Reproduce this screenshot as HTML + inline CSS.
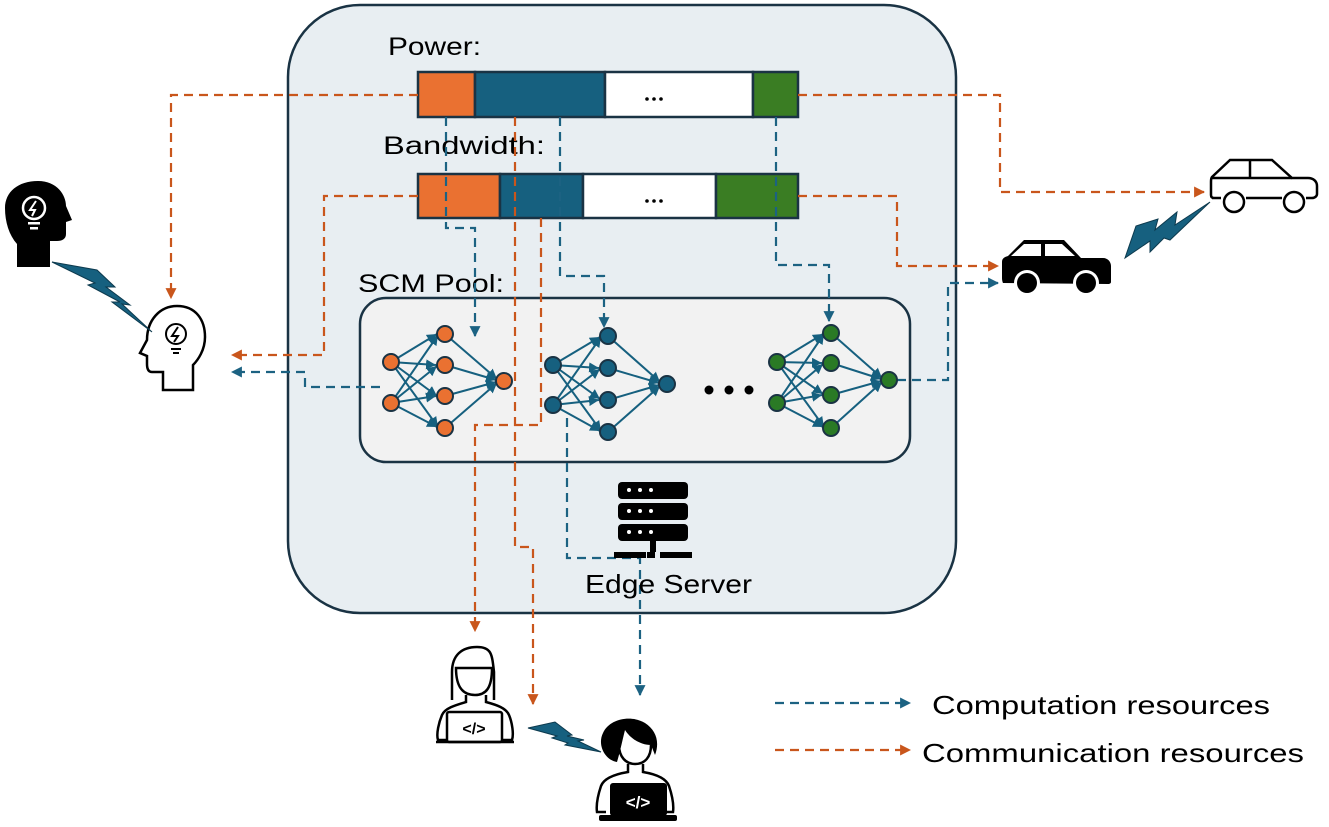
<!DOCTYPE html>
<html><head><meta charset="utf-8"><style>
html,body{margin:0;padding:0;background:#fff;}
svg{display:block;font-family:"Liberation Sans",sans-serif;}
</style></head><body>
<svg width="1329" height="827" viewBox="0 0 1329 827" xmlns="http://www.w3.org/2000/svg">
<defs>
<marker id="ao" viewBox="0 0 10 10" refX="9" refY="5" markerWidth="5" markerHeight="5" orient="auto" markerUnits="strokeWidth"><path d="M0,0L10,5L0,10z" fill="#c9561c"/></marker>
<marker id="ab" viewBox="0 0 10 10" refX="9" refY="5" markerWidth="5" markerHeight="5" orient="auto" markerUnits="strokeWidth"><path d="M0,0L10,5L0,10z" fill="#1c6282"/></marker>
<marker id="an" viewBox="0 0 10 10" refX="10" refY="5" markerWidth="5" markerHeight="5" orient="auto" markerUnits="strokeWidth"><path d="M0,0L10,5L0,10z" fill="#16607f"/></marker>
</defs>

<rect x="288" y="5" width="668" height="608" rx="72" fill="#e8eef2" stroke="#1a3344" stroke-width="2.5"/>

<text x="388" y="55" font-size="25" fill="#000" textLength="93" lengthAdjust="spacingAndGlyphs">Power:</text>
<text x="383" y="154" font-size="25" fill="#000" textLength="162" lengthAdjust="spacingAndGlyphs">Bandwidth:</text>
<text x="358" y="292" font-size="25" fill="#000" textLength="146" lengthAdjust="spacingAndGlyphs">SCM Pool:</text>

<rect x="360" y="298" width="550" height="164" rx="26" fill="#f2f2f2" stroke="#1a3344" stroke-width="2.5"/>

<g stroke="#1a3344" stroke-width="2.5">
<rect x="418" y="72" width="57" height="45" fill="#ea7131"/>
<rect x="475" y="72" width="130" height="45" fill="#16607f"/>
<rect x="605" y="72" width="148" height="45" fill="#fff"/>
<rect x="753" y="72" width="45" height="45" fill="#3a7d23"/>
<rect x="418" y="174" width="82" height="44" fill="#ea7131"/>
<rect x="500" y="174" width="83" height="44" fill="#16607f"/>
<rect x="583" y="174" width="133" height="44" fill="#fff"/>
<rect x="716" y="174" width="82" height="44" fill="#3a7d23"/>
</g>
<g fill="#000"><circle cx="647" cy="99" r="1.8"/><circle cx="654" cy="99" r="1.8"/><circle cx="661" cy="99" r="1.8"/>
<circle cx="647" cy="201" r="1.8"/><circle cx="654" cy="201" r="1.8"/><circle cx="661" cy="201" r="1.8"/></g>

<g fill="none" stroke-width="2.2" stroke-dasharray="9,6">
<path d="M418,95 H171 V298" stroke="#c9561c" marker-end="url(#ao)"/>
<path d="M418,196 H324 V355 H232" stroke="#c9561c" marker-end="url(#ao)"/>
<path d="M380,387 H305 V372 H232" stroke="#1c6282" marker-end="url(#ab)"/>
<path d="M446,117 V228 H475 V336" stroke="#1c6282" marker-end="url(#ab)"/>
<path d="M515,117 V547 H533 V704" stroke="#c9561c" marker-end="url(#ao)"/>
<path d="M541,218 V425 H475 V631" stroke="#c9561c" marker-end="url(#ao)"/>
<path d="M560,117 V276 H604 V327" stroke="#1c6282" marker-end="url(#ab)"/>
<path d="M776,117 V265 H829 V321" stroke="#1c6282" marker-end="url(#ab)"/>
<path d="M798,95 H1000 V192 H1204" stroke="#c9561c" marker-end="url(#ao)"/>
<path d="M798,196 H897 V266 H998" stroke="#c9561c" marker-end="url(#ao)"/>
<path d="M897,380 H948 V283 H998" stroke="#1c6282" marker-end="url(#ab)"/>
<path d="M567,418 V558 H640 V695" stroke="#1c6282" marker-end="url(#ab)"/>
<path d="M775,703 H910" stroke="#1c6282" marker-end="url(#ab)"/>
<path d="M775,750 H910" stroke="#c9561c" marker-end="url(#ao)"/>
</g>

<g stroke="#16607f" stroke-width="2" marker-end="url(#an)">
<line x1="391" y1="362" x2="437" y2="334"/><line x1="391" y1="362" x2="436" y2="365"/><line x1="391" y1="362" x2="437" y2="396"/><line x1="391" y1="362" x2="438" y2="427"/>
<line x1="391" y1="403" x2="438" y2="335"/><line x1="391" y1="403" x2="437" y2="366"/><line x1="391" y1="403" x2="436" y2="396"/><line x1="391" y1="403" x2="437" y2="427"/>
<line x1="445" y1="334" x2="497" y2="379"/><line x1="445" y1="365" x2="496" y2="380"/><line x1="445" y1="396" x2="496" y2="382"/><line x1="445" y1="428" x2="497" y2="383"/>
<line x1="553" y1="365" x2="600" y2="337"/><line x1="553" y1="365" x2="599" y2="368"/><line x1="553" y1="365" x2="600" y2="399"/><line x1="553" y1="365" x2="601" y2="431"/>
<line x1="553" y1="405" x2="601" y2="337"/><line x1="553" y1="405" x2="600" y2="369"/><line x1="553" y1="405" x2="599" y2="400"/><line x1="553" y1="405" x2="600" y2="431"/>
<line x1="608" y1="336" x2="660" y2="382"/><line x1="608" y1="368" x2="659" y2="383"/><line x1="608" y1="400" x2="659" y2="385"/><line x1="608" y1="432" x2="660" y2="386"/>
<line x1="777" y1="362" x2="823" y2="334"/><line x1="777" y1="362" x2="822" y2="363"/><line x1="777" y1="362" x2="823" y2="394"/><line x1="777" y1="362" x2="824" y2="427"/>
<line x1="777" y1="403" x2="824" y2="334"/><line x1="777" y1="403" x2="823" y2="364"/><line x1="777" y1="403" x2="822" y2="395"/><line x1="777" y1="403" x2="823" y2="427"/>
<line x1="831" y1="333" x2="882" y2="378"/><line x1="831" y1="363" x2="881" y2="379"/><line x1="831" y1="395" x2="881" y2="381"/><line x1="831" y1="428" x2="882" y2="382"/>
</g>
<g stroke="#1a3344" stroke-width="2">
<g fill="#ea7131"><circle cx="391" cy="362" r="8"/><circle cx="391" cy="403" r="8"/><circle cx="445" cy="334" r="8"/><circle cx="445" cy="365" r="8"/><circle cx="445" cy="396" r="8"/><circle cx="445" cy="428" r="8"/><circle cx="504" cy="381" r="8"/></g>
<g fill="#16607f"><circle cx="553" cy="365" r="8"/><circle cx="553" cy="405" r="8"/><circle cx="608" cy="336" r="8"/><circle cx="608" cy="368" r="8"/><circle cx="608" cy="400" r="8"/><circle cx="608" cy="432" r="8"/><circle cx="667" cy="384" r="8"/></g>
<g fill="#2a7a25"><circle cx="777" cy="362" r="8"/><circle cx="777" cy="403" r="8"/><circle cx="831" cy="333" r="8"/><circle cx="831" cy="363" r="8"/><circle cx="831" cy="395" r="8"/><circle cx="831" cy="428" r="8"/><circle cx="889" cy="380" r="8"/></g>
</g>
<g fill="#000"><circle cx="709" cy="390" r="4.5"/><circle cx="729" cy="390" r="4.5"/><circle cx="749" cy="390" r="4.5"/></g>

<g fill="#000">
<rect x="618" y="482" width="70" height="17" rx="4"/>
<rect x="618" y="503" width="70" height="17" rx="4"/>
<rect x="618" y="524" width="70" height="17" rx="4"/>
<rect x="650" y="541" width="6" height="11"/>
<rect x="614" y="552" width="32" height="6"/><rect x="647" y="552" width="8" height="6"/><rect x="660" y="552" width="32" height="6"/>
</g>
<g fill="#fff"><circle cx="629" cy="490" r="2"/><circle cx="640" cy="490" r="2"/><circle cx="651" cy="490" r="2"/><circle cx="629" cy="511" r="2"/><circle cx="640" cy="511" r="2"/><circle cx="651" cy="511" r="2"/><circle cx="629" cy="532" r="2"/><circle cx="640" cy="532" r="2"/><circle cx="651" cy="532" r="2"/></g>
<text x="585" y="593" font-size="26" textLength="167" lengthAdjust="spacingAndGlyphs">Edge Server</text>

<text x="932" y="714" font-size="26" textLength="338" lengthAdjust="spacingAndGlyphs">Computation resources</text>
<text x="922" y="762" font-size="26" textLength="382" lengthAdjust="spacingAndGlyphs">Communication resources</text>

<!-- black head -->
<path d="M17,267 V244 C9,235 5,222 5,208 C5,192 18,181 38,181 C57,181 66,195 66,206 L72,220 L66,222 V234 C66,239 62,241 57,241 H50 V267 Z" fill="#000"/>
<circle cx="34" cy="208" r="11" fill="none" stroke="#fff" stroke-width="2.5"/>
<path d="M36,201 L30,210 L35,210 L32,216" fill="none" stroke="#fff" stroke-width="2"/>
<rect x="28" y="222" width="12" height="2.5" fill="#fff"/><rect x="30" y="227" width="8" height="2.5" fill="#fff"/>

<!-- white head -->
<path d="M163,390 V372 H152 C148,372 147,368 147,364 L147,356 L140,353 L147,340 C147,320 160,306 177,306 C196,306 205,320 205,337 C205,350 198,360 193,365 V390 Z" fill="#fff" stroke="#000" stroke-width="2.5"/>
<circle cx="176" cy="334" r="10" fill="none" stroke="#000" stroke-width="2"/>
<path d="M178,327 L172,336 L178,336 L174,342" fill="none" stroke="#000" stroke-width="2"/>
<rect x="171" y="348" width="10" height="2" fill="#000"/><rect x="173" y="352" width="6" height="2" fill="#000"/>

<g fill="#16607f" stroke="#0d3a4e" stroke-width="1">
<polygon points="52,262 97,270 115,287 106,287 130,305 122,304 152,332 112,302 120,302 88,285 95,283"/>
<polygon points="1125,258 1136,226 1158,219 1155,230 1177,212 1175,225 1210,202 1170,240 1164,238 1150,252 1150,241"/>
<polygon points="528,728 555,722 572,735 567,736 584,740 578,741 601,752 565,745 568,743 552,738 557,736"/>
</g>

<g fill="none" stroke="#000" stroke-width="2.5">
<path d="M1212,198 H1221 M1246,198 H1282 M1306,198 H1312 C1315,198 1317,196 1317,194 V186 C1317,181 1313,178 1308,178 H1292 L1272,160 H1230 L1212,177 C1211,178 1211,180 1211,182 V195 C1211,197 1212,198 1214,198"/>
<path d="M1250,160 V178 M1212,178 H1292"/>
<circle cx="1234" cy="202" r="10"/><circle cx="1294" cy="202" r="10"/>
</g>

<path d="M1003,283 C1003,283 1002,281 1002,278 V262 C1002,258 1005,257 1008,256 L1024,240 H1064 L1081,258 H1103 C1108,258 1111,262 1111,266 V282 C1111,283 1110,284 1108,284 Z" fill="#000"/>
<path d="M1011,256 L1024,244 H1041 V256 Z M1045,244 H1062 L1075,256 H1045 Z" fill="#fff"/>
<circle cx="1027" cy="283" r="13" fill="#fff"/><circle cx="1086" cy="283" r="13" fill="#fff"/>
<circle cx="1027" cy="283" r="10" fill="#000"/><circle cx="1086" cy="283" r="10" fill="#000"/>

<g fill="none" stroke="#000" stroke-width="2.5">
<path d="M452,700 V672 C452,655 462,647 477,647 C492,647 492,655 494,672 V700"/>
<path d="M456,668 C456,690 465,695 475,695 C486,695 492,688 492,668 Z"/>
<path d="M466,695 V702 C456,705 445,708 442,715 C439,722 436,734 438,740 H448 M486,695 V702 C497,705 506,708 509,715 C512,722 514,734 512,740 H503"/>
<rect x="447" y="712" width="55" height="30" rx="2"/>
<path d="M436,742 H514"/>
</g>
<text x="474" y="734" font-size="16" font-weight="bold" text-anchor="middle">&lt;/&gt;</text>

<path d="M617,762 C605,760 597,745 603,733 C610,718 632,715 645,723 C656,730 660,742 655,755 L651,745 C640,745 630,738 625,730 C622,742 620,752 617,762 Z" fill="#000"/>
<g fill="none" stroke="#000" stroke-width="2.5">
<path d="M619,745 C619,757 626,764 635,764 C645,764 651,757 651,745"/>
<path d="M628,764 V772 C616,774 604,778 601,786 C598,795 596,805 597,812 H606 M643,764 V772 C655,774 666,778 669,786 C672,795 674,805 673,812 H664"/>
</g>
<rect x="610" y="783" width="57" height="33" rx="3" fill="#000"/>
<rect x="599" y="815" width="78" height="6" rx="2" fill="#000"/>
<text x="638" y="808" font-size="17" font-weight="bold" fill="#fff" text-anchor="middle">&lt;/&gt;</text>
</svg>
</body></html>
